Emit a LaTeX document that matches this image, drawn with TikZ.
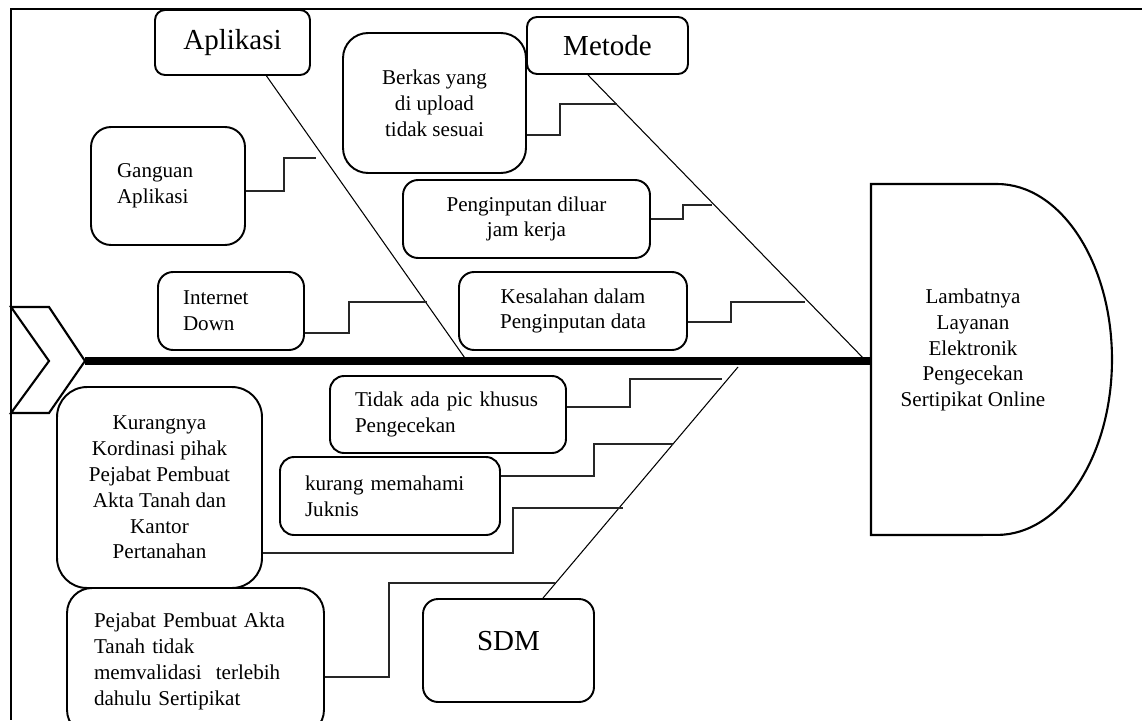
\documentclass[tikz,border=0pt]{standalone}
\usepackage{fontspec}
\setmainfont{Liberation Serif}

\begin{document}
\begin{tikzpicture}[x=0.02cm,y=-0.02cm,
   cause/.style={draw,fill=white,line width=1.1pt,rounded corners=#1,
      font=\fontsize{12}{14.7}\selectfont,align=center},
   cause/.default=0.3cm,
   category/.style={draw,fill=white,line width=1.1pt,rounded corners=#1,
      font=\fontsize{16.5}{20}\selectfont},
   category/.default=0.2cm,
   bone/.style={line width=0.6pt},
   link/.style={line width=0.7pt,black!85},
   spine/.style={line width=5pt}]
   \useasboundingbox (0,0) rectangle (1142,720);
   \draw[line width=1.4pt] (1142,9) -- (11,9) -- (11,720);

   \node[category,minimum width=3.1cm,minimum height=1.3cm] (aplikasi) at (232.5,42.5) {Aplikasi};
   \node[category,minimum width=3.22cm,minimum height=1.14cm] (metode) at (607.5,45.5) {Metode};
   \node[category=0.3cm,minimum width=3.42cm,minimum height=2.06cm,text depth=11pt] (sdm) at (508.5,650.5) {SDM};

   \node[cause=0.5cm,minimum width=3.66cm,minimum height=2.8cm] (berkas) at (434.5,103) {Berkas yang\\di upload\\tidak sesuai};
   \node[cause=0.4cm,minimum width=3.08cm,minimum height=2.36cm,text width=2.04cm,align=left] (ganguan) at (168,186) {Ganguan\\Aplikasi};
   \node[cause,minimum width=4.94cm,minimum height=1.56cm] (penginputan) at (526.5,219) {Penginputan diluar\\jam kerja};
   \node[cause,minimum width=2.92cm,minimum height=1.56cm,text width=1.92cm,align=left] (internet) at (231,311) {Internet\\Down};
   \node[cause,minimum width=4.56cm,minimum height=1.56cm] (kesalahan) at (573,311) {Kesalahan dalam\\Penginputan data};
   \node[cause=0.28cm,minimum width=4.72cm,minimum height=1.54cm,text width=3.72cm,align=left] (pic) at (448,414.5) {Tidak ada pic khusus\\Pengecekan};
   \node[cause=0.28cm,minimum width=4.4cm,minimum height=1.56cm,text width=3.4cm,align=left] (juknis) at (390,496) {kurang memahami\\Juknis};
   \node[cause=0.6cm,minimum width=4.1cm,minimum height=4.02cm] (kordinasi) at (159.5,487.5) {Kurangnya\\Kordinasi pihak\\Pejabat Pembuat\\Akta Tanah dan\\Kantor\\Pertanahan};
   \node[cause=0.5cm,minimum width=5.14cm,minimum height=2.94cm,text width=4.06cm,align=left] (validasi) at (195.5,661.5) {Pejabat Pembuat Akta\\Tanah tidak\\memvalidasi\ \ terlebih\\dahulu Sertipikat};

   \draw[line width=1.2pt] (871,184) -- (997,184) arc[start angle=90,end angle=-90,x radius=2.3cm,y radius=3.51cm] -- (871,535) -- cycle;
   \node[font=\fontsize{12}{14.7}\selectfont,align=center] (effect) at (973,350) {Lambatnya\\Layanan\\Elektronik\\Pengecekan\\Sertipikat Online};

   \coordinate (tail) at (85,361);
   \coordinate (headL) at (871,361);
   \coordinate (jA) at (467,361);
   \coordinate (jM) at (866,361);
   \coordinate (jS) at (738,367);
   \coordinate (A1) at (316,158);
   \coordinate (A2) at (427,302);
   \coordinate (M1) at (617,104);
   \coordinate (M2) at (712,205);
   \coordinate (M3) at (805,302);
   \coordinate (S1) at (722,379);
   \coordinate (S2) at (673,444);
   \coordinate (S3) at (623,508);
   \coordinate (S4) at (555,583);

   \draw[bone] ([xshift=0.68cm]aplikasi.south) -- (jA);
   \draw[bone] ([xshift=-0.39cm]metode.south) -- (jM);
   \draw[bone] ([xshift=0.69cm]sdm.north) -- (jS);

   \draw[link] ([yshift=-0.1cm]ganguan.east) -- ++(38,0) |- (A1);
   \draw[link] ([yshift=-0.64cm]berkas.east) -- ++(33,0) |- (M1);
   \draw[link] (penginputan.east) -- ++(32,0) |- (M2);
   \draw[link] ([yshift=-0.44cm]internet.east) -- ++(44,0) |- (A2);
   \draw[link] ([yshift=-0.22cm]kesalahan.east) -- ++(43,0) |- (M3);
   \draw[link] ([yshift=0.15cm]pic.east) -- ++(63,0) |- (S1);
   \draw[link] ([yshift=0.4cm]juknis.east) -- ++(93,0) |- (S2);
   \draw[link] ([yshift=-1.31cm]kordinasi.east) -- ++(250,0) |- (S3);
   \draw[link] ([yshift=-0.31cm]validasi.east) -- ++(64,0) |- (S4);

   \draw[line width=1.2pt,fill=white] (11,307) -- (49,307) -- (85,361) -- (49,413) -- (11,413) -- (49,361) -- cycle;
   \draw[spine] (tail) -- (headL);
\end{tikzpicture}
\end{document}
